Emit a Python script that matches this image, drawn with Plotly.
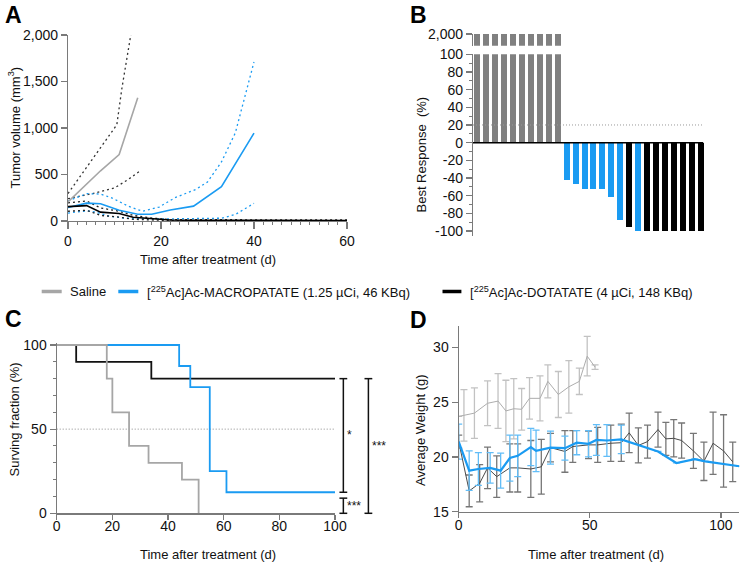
import plotly.graph_objects as go

W, H = 742, 563
FONT = "Liberation Sans, Arial, sans-serif"

# ---------------- data ----------------
# Panel A: tumor volume (mm3) vs time (d)
sal_days = [0, 4, 7, 11, 15]
sal_mean = [205, 395, 540, 715, 1325]
sal_upper_days = [0, 4, 7, 10.5, 11.6, 12.6, 13.3, 14]
sal_upper = [295, 575, 785, 1035, 1430, 1750, 1950, 2150]
sal_lower_days = [0, 5.7, 10, 12.9, 15.4]
sal_lower = [240, 300, 355, 445, 535]

mac_days = [0, 4, 7, 11, 15, 18, 22, 27, 33, 40]
mac_mean = [145, 192, 185, 115, 72, 72, 118, 160, 370, 945]
mac_upper_days = [0, 4, 7, 9.5, 13, 16, 19.6, 23, 27.5, 30, 33, 36, 40]
mac_upper = [215, 294, 290, 247, 158, 105, 150, 250, 340, 420, 635, 950, 1710]
mac_lower_days = [0, 4, 6, 9, 12, 15, 20, 25, 30, 33, 36, 40]
mac_lower = [85, 110, 95, 50, 32, 25, 22, 25, 28, 30, 70, 190]

dot_days = [0, 4, 7, 11, 14, 18, 22, 30, 40, 50, 60]
dot_mean = [155, 165, 95, 80, 40, 22, 10, 7, 6, 6, 6]
dot_upper = [195, 215, 140, 105, 60, 32, 14, 12, 12, 12, 12]
dot_lower = [105, 115, 60, 42, 18, 8, 5, 4, 4, 4, 4]

# Panel B: best response (%) per animal (saline values exceed the axis break)
best_response = [2000, 2000, 2000, 2000, 2000, 2000, 2000, 2000, 2000, 2000,
                 -42, -47, -52, -53, -53, -62, -87, -95, -100,
                 -100, -100, -100, -100, -100, -100, -100]
best_group = ["Saline"] * 10 + ["MACRO"] * 7 + ["DOTA", "MACRO"] + ["DOTA"] * 7
response_threshold = 20

# Panel C: Kaplan-Meier survival (%)
km_sal_t = [0, 18, 20, 26, 33, 45, 51]
km_sal_s = [100, 80, 60, 40, 30, 20, 0]
km_mac_t = [0, 44, 48, 55, 61, 100]
km_mac_s = [100, 87.5, 75, 25, 12.5, 12.5]
km_dot_t = [0, 7, 34, 100]
km_dot_s = [100, 90, 80, 80]
median_line = 50

# Panel D: average weight (g)
w_sal_days = [0, 2, 6, 11, 15, 18, 21, 24, 27, 31, 34, 38, 42, 46, 49, 52]
w_sal = [23.7, 23.8, 24.0, 24.9, 25.1, 24.2, 24.4, 24.35, 25.35, 25.35, 26.9, 25.7, 26.4, 26.9, 29.2, 28.2]
w_sal_err = [None, 2.35, 2.3, 2.05, 2.5, 2.8, 2.75, 1.9, 1.9, 2.05, 1.5, 2.1, 2.4, 1.2, 1.8, 0.2]

w_mac_days = [0, 4, 7.5, 12, 16, 19.5, 22.5, 27.5, 29.5, 35, 40.5, 45, 49.5, 52.5, 56.5, 62, 76, 83, 90, 94, 107]
w_mac = [21.4, 18.75, 18.9, 19.0, 18.75, 19.9, 20.1, 20.9, 20.55, 20.85, 20.8, 21.3, 21.2, 21.55, 21.5, 21.6,
         20.5, 19.45, 19.8, 19.6, 19.15]
w_mac_err = [1.6, 1.8, 1.5, 1.4, 1.6, 2.1, 1.9, 1.7, 1.9, 1.5, 1.1, 1.1, 1.2, 1.4, 1.45, 1.3,
             None, None, None, None, None]

w_dot_days = [0, 4, 8, 11, 14.5, 19.5, 22.5, 27.5, 31.5, 35, 40.5, 43.5, 49.5, 53, 58, 62, 65, 68.5, 72, 76,
              79, 82, 85, 89.5, 93.5, 97, 101, 104.5]
w_dot = [21.4, 16.9, 17.6, 19.0, 18.2, 19.0, 19.0, 18.9, 19.1, 20.85, 20.5, 20.95, 21.1, 21.1, 21.25, 21.3,
         22.2, 21.05, 21.4, 22.5, 21.65, 21.7, 21.5, 20.55, 19.6, 21.25, 20.55, 19.55]
w_dot_err = [0.6, 1.45, 1.7, 1.9, 1.9, 2.2, 2.2, 2.6, 2.5, 1.3, 1.9, 1.45, 1.25, 1.6, 1.65, 1.7, 1.8, 1.6,
             1.5, 1.6, 1.5, 1.7, 1.6, 1.6, 1.75, 2.85, 3.3, 1.8]

legend_labels = ["Saline",
                 "[<sup>225</sup>Ac]Ac-MACROPATATE (1.25 µCi, 46 KBq)",
                 "[<sup>225</sup>Ac]Ac-DOTATATE (4 µCi, 148 KBq)"]

# ---------------- styling ----------------
GRAY = "#a6a6a6"
BLUE = "#1a9bf2"
BLACK = "#000000"
BAR_GRAY = "#808080"
AX = "#7a7a7a"
group_colors = {"Saline": BAR_GRAY, "MACRO": BLUE, "DOTA": BLACK}


def px_x(p):
    return p / W


def px_y(p):
    return 1 - p / H


# panel geometry (pixels)
A_X = (68, 347); A_Y = (221, 35)
B_X = (473, 705); B_YL = (236.3, 54.3); B_YT = (45.7, 34)
C_X = (56.7, 335); C_Y = (513.3, 343.3)
D_X = (458.7, 739.3); D_Y = (511.7, 325.5)
C_XR = [0, 100]; C_YR = [0, 101]

fig = go.Figure()


def line(x, y, color, width, xa, ya, dash=None, shape="linear"):
    return go.Scatter(x=x, y=y, mode="lines", xaxis=xa, yaxis=ya, showlegend=False, hoverinfo="skip",
                      line=dict(color=color, width=width, dash=dash, shape=shape))


DOT = "2px,3px"
# Panel A
fig.add_trace(line(sal_upper_days, sal_upper, "#333333", 1.3, "x", "y", DOT))
fig.add_trace(line(sal_lower_days, sal_lower, "#333333", 1.3, "x", "y", DOT))
fig.add_trace(line(mac_upper_days, mac_upper, BLUE, 1.3, "x", "y", DOT))
fig.add_trace(line(mac_lower_days, mac_lower, BLUE, 1.3, "x", "y", DOT))
fig.add_trace(line(dot_days, dot_upper, "#222222", 1.3, "x", "y", DOT))
fig.add_trace(line(dot_days, dot_lower, "#222222", 1.3, "x", "y", DOT))
fig.add_trace(line(sal_days, sal_mean, GRAY, 1.6, "x", "y"))
fig.add_trace(line(mac_days, mac_mean, BLUE, 1.6, "x", "y"))
fig.add_trace(line(dot_days, dot_mean, BLACK, 1.6, "x", "y"))

# Panel B
bar_x = list(range(1, len(best_response) + 1))
bar_colors = [group_colors[g] for g in best_group]
for ya in ("y2", "y3"):
    fig.add_trace(go.Bar(x=bar_x, y=best_response, width=0.67, marker=dict(color=bar_colors, line=dict(width=0)),
                         xaxis="x2", yaxis=ya, showlegend=False, hoverinfo="skip"))

# Panel C
fig.add_trace(line(km_dot_t, km_dot_s, "#111111", 1.8, "x3", "y4", shape="hv"))
fig.add_trace(line(km_mac_t, km_mac_s, BLUE, 1.8, "x3", "y4", shape="hv"))
fig.add_trace(line(km_sal_t, km_sal_s, GRAY, 1.8, "x3", "y4", shape="hv"))


# Panel D
def wtrace(x, y, err, lc, lw, ec):
    return go.Scatter(x=x, y=y, mode="lines", xaxis="x4", yaxis="y5", showlegend=False, hoverinfo="skip",
                      line=dict(color=lc, width=lw),
                      error_y=dict(type="data", array=err, visible=True, color=ec, thickness=1.3, width=3.5))


fig.add_trace(wtrace(w_sal_days, w_sal, w_sal_err, "#adadad", 1.0, "#c2c2c2"))
fig.add_trace(wtrace(w_dot_days, w_dot, w_dot_err, "#4a4a4a", 1.0, "#767676"))
fig.add_trace(wtrace(w_mac_days, w_mac, w_mac_err, BLUE, 2.2, "#62bdf7"))

tickfont = dict(family=FONT, size=14, color="#111111")
common = dict(showline=True, linecolor=AX, linewidth=1.2, ticks="outside", tickcolor=AX, ticklen=6,
              tickwidth=1.2, showgrid=False, zeroline=False, tickfont=tickfont, fixedrange=True,
              automargin=False)

fig.update_layout(
    width=W, height=H, margin=dict(l=0, r=0, t=0, b=0, pad=0, autoexpand=False),
    paper_bgcolor="white", plot_bgcolor="white", font=dict(family=FONT, color="#111111"),
    showlegend=False, bargap=0,
    xaxis=dict(common, domain=[px_x(A_X[0]), px_x(A_X[1])], range=[0, 60], tickvals=[0, 20, 40, 60],
               ticklen=7, anchor="y",
               minor=dict(ticks="outside", ticklen=3, tickcolor=AX, dtick=2, tick0=0, tickwidth=1)),
    yaxis=dict(common, domain=[px_y(A_Y[0]), px_y(A_Y[1])], range=[0, 2000],
               tickvals=[0, 500, 1000, 1500, 2000], ticktext=["0", "500", "1,000", "1,500", "2,000"], anchor="x"),
    xaxis2=dict(domain=[px_x(B_X[0]), px_x(B_X[1])], range=[0.5, 26.5], visible=False, anchor="y2",
                fixedrange=True, automargin=False),
    yaxis2=dict(common, domain=[px_y(B_YL[0]), px_y(B_YL[1])], range=[-106, 100],
                tickvals=list(range(-100, 101, 20)), ticktext=[str(v) for v in range(-100, 101, 20)],
                anchor="x2", minor=dict(ticks="outside", ticklen=3, tickcolor=AX, dtick=10, tick0=0, tickwidth=1)),
    yaxis3=dict(common, domain=[px_y(B_YT[0]), px_y(B_YT[1])], range=[1950, 2000],
                tickvals=[2000], ticktext=["2,000"], anchor="x2"),
    xaxis3=dict(common, domain=[px_x(C_X[0]), px_x(C_X[1])], range=C_XR, tickvals=list(range(0, 101, 20)),
                ticklen=5, ticklabelstandoff=-5, anchor="y4"),
    yaxis4=dict(common, domain=[px_y(C_Y[0]), px_y(C_Y[1])], range=C_YR, tickvals=[0, 50, 100], anchor="x3",
                minor=dict(ticks="outside", ticklen=3, tickcolor=AX, dtick=10, tick0=0, tickwidth=1)),
    xaxis4=dict(common, domain=[px_x(D_X[0]), px_x(D_X[1])], range=[0, 107], tickvals=[0, 50, 100],
                ticklen=5, ticklabelstandoff=-5, anchor="y5"),
    yaxis5=dict(common, domain=[px_y(D_Y[0]), px_y(D_Y[1])], range=[15, 32], tickvals=[15, 20, 25, 30],
                anchor="x4"),
)

shapes = []
# B reference lines
shapes.append(dict(type="line", xref="x2", yref="y2", x0=0.5, x1=26.3, y0=response_threshold,
                   y1=response_threshold, line=dict(color="#9a9a9a", width=1, dash="1px,2px")))
shapes.append(dict(type="line", xref="x2", yref="y2", x0=0.5, x1=26.3, y0=0, y1=0,
                   line=dict(color="#000000", width=1.5)))
# C median line
shapes.append(dict(type="line", xref="x3", yref="y4", x0=0, x1=100, y0=median_line, y1=median_line,
                   line=dict(color="#8a8a8a", width=1, dash="1px,2px"), layer="below"))


# C significance brackets (paper coords from data)
def c_x(v):
    return px_x(C_X[0] + (v - C_XR[0]) / (C_XR[1] - C_XR[0]) * (C_X[1] - C_X[0]))


def c_y(v):
    return px_y(C_Y[0] + (v - C_YR[0]) / (C_YR[1] - C_YR[0]) * (C_Y[1] - C_Y[0]))


def bracket(xv, y_top, y_bot, label, lab_dx):
    cap = 1.4
    sh = [dict(type="line", xref="paper", yref="paper", x0=c_x(xv), x1=c_x(xv), y0=c_y(y_top), y1=c_y(y_bot),
               line=dict(color="#111111", width=1.5)),
          dict(type="line", xref="paper", yref="paper", x0=c_x(xv - cap), x1=c_x(xv + cap), y0=c_y(y_top),
               y1=c_y(y_top), line=dict(color="#111111", width=1.5)),
          dict(type="line", xref="paper", yref="paper", x0=c_x(xv - cap), x1=c_x(xv + cap), y0=c_y(y_bot),
               y1=c_y(y_bot), line=dict(color="#111111", width=1.5))]
    ann = dict(text=label, xref="paper", yref="paper", x=c_x(xv + lab_dx), y=c_y((y_top + y_bot) / 2),
               xanchor="left", yanchor="middle", showarrow=False, font=dict(family=FONT, size=12, color="#111"))
    return sh, ann


anns = []
for xv, yt, yb, lab in [(103, km_dot_s[-1], km_mac_s[-1], "*"),
                        (103, km_mac_s[-1] - 3.5, km_sal_s[-1], "***"),
                        (112, km_dot_s[-1], km_sal_s[-1], "***")]:
    sh, an = bracket(xv, yt, yb, lab, 0.6)
    shapes += sh
    anns.append(an)

# legend (drawn manually)
leg_y = px_y(291.5)
leg_items = [(41.7, 61.7, GRAY, 67.7), (118.3, 138.3, BLUE, 144.5), (442.5, 461.4, BLACK, 467.5)]
for (x0, x1, col, tx), lab in zip(leg_items, legend_labels):
    shapes.append(dict(type="line", xref="paper", yref="paper", x0=px_x(x0), x1=px_x(x1), y0=leg_y, y1=leg_y,
                       line=dict(color=col, width=3.5)))
    anns.append(dict(text=lab, xref="paper", yref="paper", x=px_x(tx), y=leg_y, xanchor="left",
                     yanchor="middle", showarrow=False, font=dict(family=FONT, size=13, color="#111")))

# panel letters
for let, cx, cy in [("A", 13, 15), ("B", 418.5, 15), ("C", 13.5, 318.5), ("D", 418.5, 320.5)]:
    anns.append(dict(text="<b>%s</b>" % let, xref="paper", yref="paper", x=px_x(cx), y=px_y(cy),
                     xanchor="center", yanchor="middle", showarrow=False,
                     font=dict(family=FONT, size=23, color="#000")))

# axis titles
tf = dict(family=FONT, size=13, color="#111")
for txt, cx, cy, ang in [("Tumor volume (mm<sup>3</sup>)", 14, 127.5, -90),
                         ("Best Response  (%)", 421, 154.5, -90),
                         ("Surving fraction (%)", 14, 419.5, -90),
                         ("Average Weight (g)", 421, 430, -90),
                         ("Time after treatment (d)", 207.5, 259.5, 0),
                         ("Time after treatment (d)", 208, 554, 0),
                         ("Time after treatment (d)", 596, 554, 0)]:
    anns.append(dict(text=txt, xref="paper", yref="paper", x=px_x(cx), y=px_y(cy), xanchor="center",
                     yanchor="middle", showarrow=False, textangle=ang, font=tf))

fig.update_layout(shapes=shapes, annotations=anns)
fig.write_html("out.html", config={"displayModeBar": False, "staticPlot": True},
               post_script="document.body.style.margin='0';document.body.style.overflow='hidden';")
